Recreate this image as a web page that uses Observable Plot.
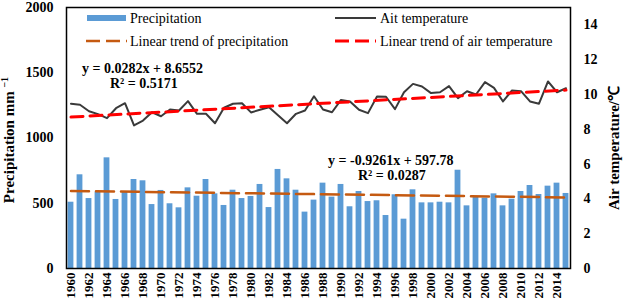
<!DOCTYPE html>
<html><head><meta charset="utf-8">
<script src="https://cdn.jsdelivr.net/npm/d3@7"></script>
<script src="https://cdn.jsdelivr.net/npm/@observablehq/plot@0.6"></script>
<style>
body{margin:0;background:#fff;}
#chart{position:relative;width:624px;height:308px;}
#chart svg, #chart svg text{font-family:'Liberation Serif','Times New Roman',serif !important;}
</style>
</head><body><div id="chart"></div>
<script>
const years = d3.range(1960, 2016);
const precipitation = [508,718,536,585,848,529,585,682,672,490,598,496,465,618,554,682,572,483,600,
  536,552,644,467,759,687,600,432,524,654,547,644,473,590,513,519,406,565,
  378,603,503,503,508,503,753,480,552,539,572,480,531,590,636,567,631,654,575];
const temperature = [9.47,9.41,9.04,8.87,8.64,9.21,9.5,8.22,8.5,8.98,8.75,9.14,9.08,9.62,8.89,8.89,8.35,9.24,9.47,
  9.5,8.97,9.12,9.27,8.81,8.35,8.89,9.08,9.9,9.14,8.98,9.69,9.6,9.12,8.93,9.89,9.87,9.16,
  10.13,10.61,10.46,10.08,10.13,10.48,9.79,10.19,10.0,10.71,10.38,9.6,10.23,10.19,9.6,9.47,10.75,10.13,10.36];
const precipTicks = [0,500,1000,1500,2000];
const tempTicks = [0,2,4,6,8,10,12,14];
const yearTicks = d3.range(1960, 2015, 2);
const legendLabels = ["Precipitation","Linear trend of precipitation","Ait temperature","Linear trend of air temperature"];
const equations = ["y = 0.0282x + 8.6552","R\u00B2 = 0.5171","y = -0.9261x + 597.78","R\u00B2 = 0.0287"];

const k = 2000 / 15; // temperature axis 0..15 mapped onto 0..2000
const data = years.map((y, i) => ({year: y, precip: precipitation[i], temp: temperature[i]}));

const font = "'Liberation Serif','Times New Roman',serif";
const plot = Plot.plot({
  width: 624, height: 308,
  marginLeft: 66, marginRight: 54, marginTop: 7, marginBottom: 40,
  style: {fontFamily: font, fontSize: "14px", fontWeight: "bold", color: "#000", background: "#fff"},
  x: {domain: [1959.5, 2015.5]},
  y: {domain: [0, 2000]},
  marks: [
    Plot.rectY(data, {x1: d => d.year - 0.5, x2: d => d.year + 0.5, y: "precip", insetLeft: 1.6, insetRight: 1.6, fill: "#5B9BD5"}),
    Plot.linearRegressionY(data, {x: "year", y: "precip", ci: 0, stroke: "#C55A11", strokeWidth: 2.5, strokeDasharray: "18,7"}),
    Plot.lineY(data, {x: "year", y: d => d.temp * k, stroke: "#3a3a3a", strokeWidth: 2}),
    Plot.linearRegressionY(data, {x: "year", y: d => d.temp * k, ci: 0, stroke: "#FF0000", strokeWidth: 3, strokeDasharray: "12,7"}),
    Plot.frame({stroke: "#000", strokeWidth: 1.5}),
    Plot.axisY({ticks: precipTicks, tickFormat: d => String(d), tickSize: 0, tickPadding: 13, label: null, fontSize: 14, fontWeight: "bold"}),
    Plot.axisY({anchor: "right", ticks: tempTicks.map(t => t * k), tickFormat: d => String(Math.round(d / k)), tickSize: 0, tickPadding: 13, label: null, fontSize: 14, fontWeight: "bold"}),
    Plot.axisX({ticks: yearTicks, tickFormat: d => String(d), tickRotate: -90, tickSize: 0, tickPadding: 4, label: null, fontSize: 13, fontWeight: "bold"})
  ]
});
document.getElementById("chart").appendChild(plot);

const svg = d3.select(plot);
const g = svg.append("g").attr("font-family", font).attr("fill", "#000").attr("text-anchor", "start");
// legend
const L = g.append("g").attr("font-size", 14).attr("font-weight", "normal");
L.append("rect").attr("x", 87).attr("y", 15).attr("width", 39).attr("height", 6).attr("fill", "#5B9BD5");
L.append("text").attr("x", 130).attr("y", 23).text(legendLabels[0]);
L.append("line").attr("x1", 86).attr("x2", 127).attr("y1", 41).attr("y2", 41).attr("stroke", "#C55A11").attr("stroke-width", 2.5).attr("stroke-dasharray", "14,6");
L.append("text").attr("x", 130).attr("y", 46).text(legendLabels[1]);
L.append("line").attr("x1", 335).attr("x2", 376).attr("y1", 18).attr("y2", 18).attr("stroke", "#3a3a3a").attr("stroke-width", 2);
L.append("text").attr("x", 380).attr("y", 23).text(legendLabels[2]);
L.append("line").attr("x1", 335).attr("x2", 376).attr("y1", 41).attr("y2", 41).attr("stroke", "#FF0000").attr("stroke-width", 3).attr("stroke-dasharray", "14,6");
L.append("text").attr("x", 380).attr("y", 46).text(legendLabels[3]);
// equations
const E = g.append("g").attr("font-size", 14).attr("font-weight", "bold");
E.append("text").attr("x", 82).attr("y", 73).text(equations[0]);
E.append("text").attr("x", 110).attr("y", 88).text(equations[1]);
E.append("text").attr("x", 328).attr("y", 165).text(equations[2]);
E.append("text").attr("x", 358).attr("y", 180).text(equations[3]);
// axis titles
const T = g.append("g").attr("font-size", 15).attr("font-weight", "bold").attr("text-anchor", "middle");
const lt = T.append("text").attr("transform", "translate(14,140) rotate(-90)");
lt.append("tspan").text("Precipitation mm ");
lt.append("tspan").attr("font-size", 10).attr("dy", -6).text("\u22121");
T.append("text").attr("transform", "translate(619,148) rotate(-90)").text("Air temperature/\u2103");
</script></body></html>
